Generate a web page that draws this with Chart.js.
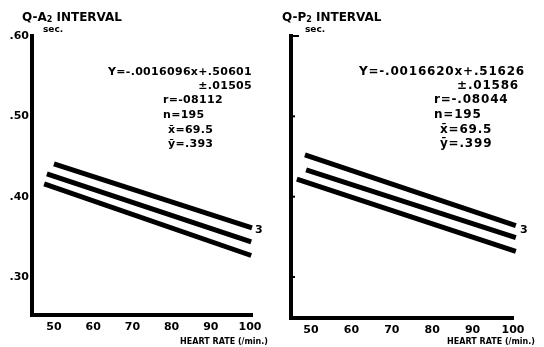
<!DOCTYPE html>
<html>
<head>
<meta charset="utf-8">
<script src="https://cdn.jsdelivr.net/npm/chart.js@4.4.1/dist/chart.umd.min.js"></script>
<style>
  html, body { margin: 0; padding: 0; background: #fff; }
  #wrap { position: relative; width: 544px; height: 347px; overflow: hidden; }
  canvas { position: absolute; top: 0; }
</style>
</head>
<body>
<div id="wrap">
  <canvas id="chartA2" width="272" height="347" style="left:0"></canvas>
  <canvas id="chartP2" width="272" height="347" style="left:272px"></canvas>
</div>
<script>
// ticks
const heartRateTicks = [50, 60, 70, 80, 90, 100];
const secTicks = [0.30, 0.40, 0.50, 0.60];
const secTickLabels = ['.30', '.40', '.50', '.60'];

// Q-A2 interval: regression line and +/- band (endpoints)
const a2UpperX = [50, 100.5];
const a2UpperY = [0.441, 0.3615];
const a2MidX = [48.2, 100.3];
const a2MidY = [0.4286, 0.344];
const a2LowerX = [47.5, 100.3];
const a2LowerY = [0.416, 0.327];
const a2Stats = ['Y=-.0016096x+.50601', '±.01505', 'r=-08112', 'n=195', 'x\u0304=69.5', '\u0233=.393'];

// Q-P2 interval
const p2UpperX = [48.5, 100.7];
const p2UpperY = [0.452, 0.364];
const p2MidX = [48.8, 100.7];
const p2MidY = [0.4335, 0.349];
const p2LowerX = [46.5, 100.7];
const p2LowerY = [0.422, 0.332];
const p2Stats = ['Y=-.0016620x+.51626', '±.01586', 'r=-.08044', 'n=195', 'x\u0304=69.5', '\u0233=.399'];

const FONT = '"DejaVu Sans", "Liberation Sans", sans-serif';
Chart.defaults.color = '#000';

function toPoints(xs, ys) {
    return xs.map((x, i) => ({ x: x, y: ys[i] }));
}

function lineSet(xs, ys) {
    return {
        data: toPoints(xs, ys),
        borderColor: '#000',
        borderWidth: 5,
        borderCapStyle: 'butt',
        pointRadius: 0,
        fill: false,
        tension: 0,
        clip: false
    };
}

// titles, stats block, axis label - drawn on the canvas after the chart
const annotate = {
    id: 'annotate',
    afterDraw(chart, args, o) {
        const ctx = chart.ctx;
        ctx.save();
        ctx.fillStyle = '#000';
        ctx.strokeStyle = '#000';
        ctx.textBaseline = 'alphabetic';

        // title with subscript 2
        ctx.textAlign = 'left';
        let x = o.titleX;
        ctx.font = 'bold 12px ' + FONT;
        ctx.fillText(o.titleHead, x, 21);
        x += ctx.measureText(o.titleHead).width;
        ctx.font = 'bold 8px ' + FONT;
        ctx.fillText('2', x, 22);
        x += ctx.measureText('2').width;
        ctx.font = 'bold 12px ' + FONT;
        ctx.fillText(' INTERVAL', x, 21);

        ctx.font = 'bold 9px ' + FONT;
        ctx.fillText('sec.', o.secX, 32);

        // regression stats
        const s = o.stats;
        ctx.font = 'bold ' + o.statSize + 'px ' + FONT;
        ctx.letterSpacing = o.spacing + 'px';
        ctx.textAlign = 'right';
        ctx.fillText(s[0], o.eqRight, 75);
        ctx.fillText(s[1], o.pmRight, 89);
        ctx.textAlign = 'left';
        ctx.fillText(s[2], o.rX, 103);
        ctx.fillText(s[3], o.rX, 118);
        ctx.fillText(s[4], o.mX, 133);
        ctx.fillText(s[5], o.mX, 147);
        ctx.letterSpacing = '0px';

        // the little "3" at the end of the upper line
        ctx.font = 'bold 11px ' + FONT;
        ctx.fillText('3', o.threeX, 233);

        ctx.textAlign = 'right';
        ctx.font = 'bold 8px ' + FONT;
        ctx.fillText('HEART RATE (/min.)', o.hrRight, 344);

        // short inward ticks on the unlabelled axis
        if (o.innerTicks) {
            const ys = chart.scales.y;
            const left = chart.chartArea.left;
            ctx.lineWidth = 2;
            secTicks.forEach((v, i) => {
                const py = ys.getPixelForValue(v);
                ctx.beginPath();
                ctx.moveTo(left, py);
                ctx.lineTo(left + (i === secTicks.length - 1 ? 8 : 4), py);
                ctx.stroke();
            });
        }
        ctx.restore();
    }
};

function makeChart(id, sets, cfg) {
    return new Chart(document.getElementById(id), {
        type: 'line',
        data: { datasets: sets },
        plugins: [annotate],
        options: {
            responsive: false,
            animation: false,
            events: [],
            layout: { padding: { top: 36, left: 0, right: cfg.padRight, bottom: 0 } },
            plugins: {
                legend: { display: false },
                tooltip: { enabled: false },
                annotate: cfg.text
            },
            scales: {
                x: {
                    type: 'linear',
                    min: cfg.xMin,
                    max: cfg.xMax,
                    afterBuildTicks: s => { s.ticks = heartRateTicks.map(v => ({ value: v })); },
                    afterFit: s => { s.height = cfg.xAxisHeight; },
                    grid: { display: false, drawTicks: false },
                    border: { display: true, color: '#000', width: 4 },
                    ticks: {
                        padding: 6,
                        color: '#000',
                        font: { family: FONT, weight: 'bold', size: 11 },
                        callback: v => String(v)
                    }
                },
                y: {
                    type: 'linear',
                    min: cfg.yMin,
                    max: 0.60,
                    afterBuildTicks: s => { s.ticks = secTicks.map(v => ({ value: v })); },
                    afterFit: s => { s.width = cfg.yAxisWidth; },
                    grid: { display: false, drawTicks: false },
                    border: { display: true, color: '#000', width: 4 },
                    ticks: {
                        display: cfg.yLabels,
                        padding: 3,
                        color: '#000',
                        font: { family: FONT, weight: 'bold', size: 11 },
                        callback: (v, i) => secTickLabels[i]
                    }
                }
            }
        }
    });
}

makeChart('chartA2', [
    lineSet(a2UpperX, a2UpperY),
    lineSet(a2MidX, a2MidY),
    lineSet(a2LowerX, a2LowerY)
], {
    xMin: 44.4, xMax: 100.5, yMin: 0.253, padRight: 20,
    xAxisHeight: 32, yAxisWidth: 32, yLabels: true,
    text: {
        titleHead: 'Q-A', titleX: 22, secX: 43, stats: a2Stats, statSize: 11, spacing: 0.3,
        eqRight: 252, pmRight: 252, rX: 163, mX: 168,
        threeX: 255, hrRight: 268, innerTicks: false
    }
});

makeChart('chartP2', [
    lineSet(p2UpperX, p2UpperY),
    lineSet(p2MidX, p2MidY),
    lineSet(p2LowerX, p2LowerY)
], {
    xMin: 45.05, xMax: 100, yMin: 0.249, padRight: 31,
    xAxisHeight: 29, yAxisWidth: 19, yLabels: false,
    text: {
        titleHead: 'Q-P', titleX: 10, secX: 33, stats: p2Stats, statSize: 12, spacing: 0.8,
        eqRight: 253, pmRight: 247, rX: 162, mX: 168,
        threeX: 248, hrRight: 263, innerTicks: true
    }
});
</script>
</body>
</html>
